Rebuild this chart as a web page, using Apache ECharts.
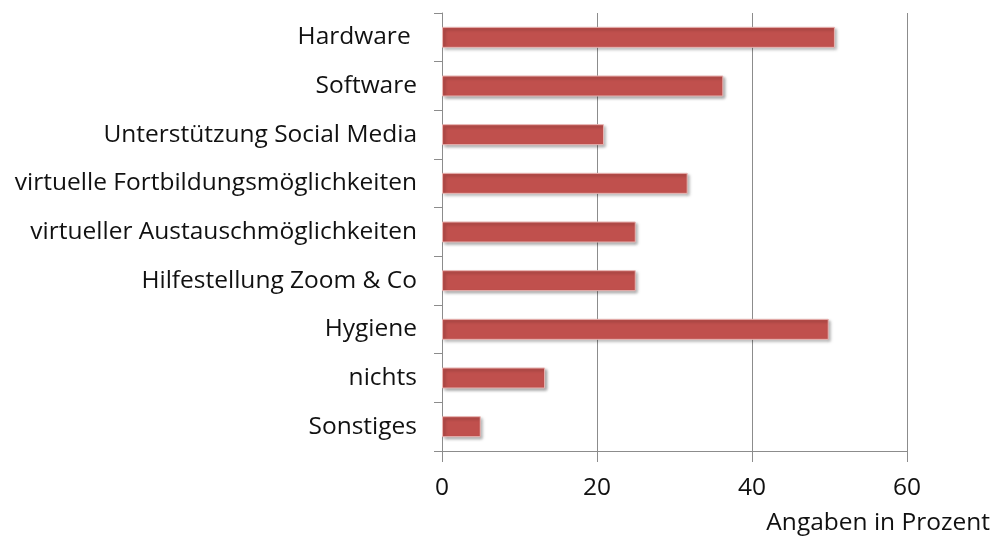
<!DOCTYPE html>
<html><head><meta charset="utf-8">
<script src="https://cdn.jsdelivr.net/npm/echarts@6/dist/echarts.min.js"></script>
<style>html,body{margin:0;padding:0;background:#fff}#c{width:995px;height:538px}</style>
</head><body><div id="c"></div>
<script>
const categories = ["Hardware ", "Software", "Unterstützung Social Media", "virtuelle Fortbildungsmöglichkeiten", "virtueller Austauschmöglichkeiten", "Hilfestellung Zoom & Co", "Hygiene", "nichts", "Sonstiges"];
const values = [50.7, 36.3, 20.9, 31.7, 25.0, 25.0, 49.9, 13.3, 5.0];
const xTicks = [0, 20, 40, 60];
const axisTitle = "Angaben in Prozent";

const FONT = "'Open Sans', Lato, sans-serif";
const FS = 24.5;
const chart = echarts.init(document.getElementById('c'));
chart.setOption({
  animation: false,
  grid: {left: 442, right: 88, top: 13, bottom: 87, containLabel: false},
  xAxis: {
    type: 'value', min: xTicks[0], max: xTicks[xTicks.length-1], interval: 20,
    axisLine: {show: true, lineStyle: {color: '#8c8c8c', width: 1}},
    axisTick: {show: true, length: 11, lineStyle: {color: '#8c8c8c'}},
    splitLine: {show: true, lineStyle: {color: '#8c8c8c', width: 1}},
    axisLabel: {fontFamily: FONT, fontSize: FS, color: '#111', margin: 25}
  },
  yAxis: {
    type: 'category', data: categories, inverse: true,
    axisLine: {show: true, lineStyle: {color: '#8c8c8c', width: 1}},
    axisTick: {show: true, length: 8, lineStyle: {color: '#8c8c8c'}},
    axisLabel: {fontFamily: FONT, fontSize: FS, color: '#111', margin: 25}
  },
  series: [{
    type: 'bar', data: values, barWidth: 21,
    itemStyle: {color: '#C0504D', borderColor: '#e8b5b3', borderWidth: 1,
      shadowColor: 'rgba(0,0,0,0.35)', shadowBlur: 3, shadowOffsetX: 2, shadowOffsetY: 2}
  }],
  graphic: [{
    type: 'text', right: 5, top: 511,
    style: {text: axisTitle, fontFamily: FONT, fontSize: FS, fill: '#111'}
  }]
});
</script></body></html>
